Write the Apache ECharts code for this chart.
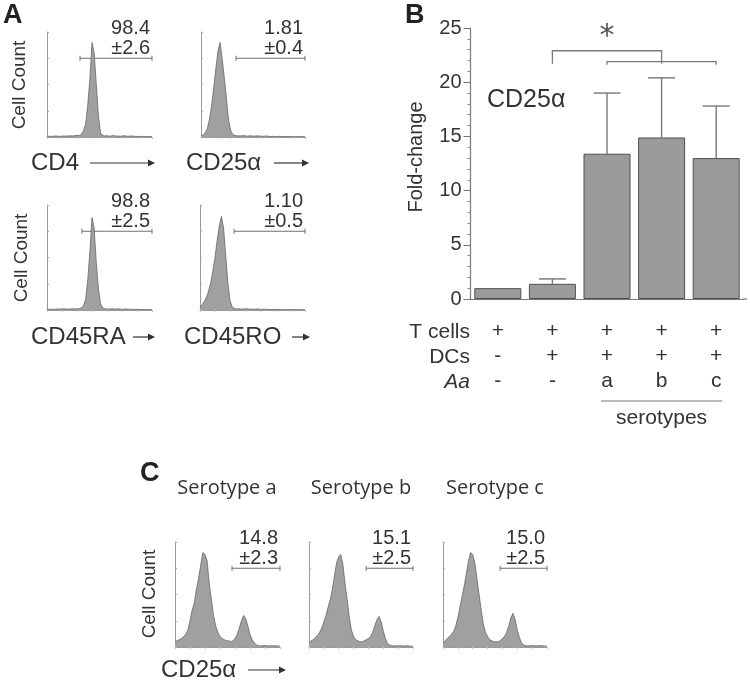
<!DOCTYPE html>
<html><head><meta charset="utf-8">
<script src="https://cdn.jsdelivr.net/npm/echarts/dist/echarts.min.js"></script>
<style>html,body{margin:0;padding:0;background:#fff}#c{width:750px;height:684px}</style>
</head><body><div id="c"></div>
<script>
// ---------- DATA ----------
// Panel A histograms (relative cell count per fluorescence bin, 50 bins)
const cd4Counts = [0.005,0.008,0.006,0.007,0.01,0.008,0.006,0.009,0.01,0.008,0.01,0.012,0.01,0.012,0.015,
  0.015,0.025,0.06,0.12,0.3,0.55,0.9,0.8,0.5,0.2,0.04,0.015,
  0.01,0.012,0.008,0.01,0.015,0.008,0.01,0.006,0.01,0.012,0.008,0.006,0.01,0.008,0.006,0.005,0.006,0.004,0.005,0.004,0.005,0.004,0.004];
const cd25Counts = [0.01,0.02,0.04,0.08,0.17,0.3,0.47,0.65,0.82,0.9,0.74,0.56,0.36,0.16,0.06,0.025,0.015,
  0.01,0.012,0.01,0.015,0.01,0.008,0.012,0.01,0.008,0.01,0.012,0.008,0.006,0.008,0.01,0.006,0.005,0.006,0.004,0.005,0.006,0.004,0.005,0.004,0.004,0.005,0.004,0.003,0.004,0.004,0.003,0.004,0.003];
const cd45raCounts = [0.005,0.006,0.008,0.006,0.008,0.01,0.008,0.01,0.012,0.01,0.008,0.01,0.012,0.01,0.012,0.012,
  0.02,0.04,0.1,0.28,0.55,0.88,0.78,0.45,0.2,0.06,0.02,
  0.012,0.01,0.008,0.012,0.01,0.008,0.012,0.01,0.006,0.008,0.01,0.006,0.008,0.006,0.005,0.006,0.004,0.005,0.004,0.005,0.004,0.004,0.003];
const cd45roCounts = [0.02,0.05,0.08,0.12,0.18,0.26,0.37,0.5,0.66,0.8,0.89,0.78,0.52,0.26,0.09,0.03,0.015,
  0.01,0.012,0.01,0.008,0.01,0.012,0.008,0.01,0.006,0.008,0.01,0.006,0.005,0.008,0.006,0.005,0.004,0.005,0.006,0.004,0.005,0.004,0.004,0.003,0.004,0.004,0.003,0.004,0.003,0.003,0.004,0.003,0.003];
// Panel C histograms (CD25α)
const serotypeACounts = [0.05,0.06,0.07,0.08,0.1,0.12,0.16,0.25,0.35,0.42,0.55,0.65,0.78,0.9,0.88,0.82,0.6,0.45,0.3,0.2,
  0.14,0.1,0.08,0.07,0.06,0.06,0.05,0.06,0.08,0.12,0.18,0.25,0.3,0.27,0.2,0.12,0.07,0.04,0.02,0.012,
  0.01,0.012,0.015,0.01,0.01,0.015,0.01,0.012,0.01,0.01];
const serotypeBCounts = [0.04,0.06,0.07,0.09,0.11,0.14,0.18,0.24,0.3,0.38,0.45,0.55,0.68,0.8,0.86,0.88,0.78,0.6,0.45,0.28,
  0.16,0.1,0.07,0.06,0.05,0.05,0.06,0.07,0.08,0.1,0.14,0.2,0.26,0.29,0.24,0.15,0.08,0.03,0.02,0.012,
  0.01,0.012,0.01,0.015,0.01,0.01,0.012,0.01,0.008,0.01];
const serotypeCCounts = [0.04,0.06,0.08,0.1,0.12,0.15,0.2,0.28,0.38,0.48,0.58,0.7,0.82,0.9,0.88,0.8,0.65,0.5,0.35,0.22,
  0.14,0.1,0.07,0.06,0.05,0.05,0.05,0.06,0.08,0.1,0.14,0.2,0.28,0.32,0.26,0.16,0.09,0.04,0.02,0.012,
  0.01,0.012,0.015,0.01,0.012,0.01,0.015,0.01,0.01,0.008];
const histMarkers = ['CD4','CD25α','CD45RA','CD45RO'];
const gatePct = ['98.4','1.81','98.8','1.10','14.8','15.1','15.0'];
const gateSd = ['±2.6','±0.4','±2.5','±0.5','±2.3','±2.5','±2.5'];
const gateStartBin = [15.4,16.5,16.3,15.9,26.6,26.9,26.9];
const gateLevel = 0.75;
const serotypeTitles = ['Serotype a','Serotype b','Serotype c'];
// Panel B
const barCats = ['1','2','3','4','5'];
const rowTCells = ['+','+','+','+','+'];
const rowDCs = ['-','+','+','+','+'];
const rowAa = ['-','-','a','b','c'];
const rowHeads = ['T cells','DCs','Aa'];
const foldChange = [1.0, 1.4, 13.4, 14.9, 13.0];
const foldErr = [0, 0.45, 5.6, 5.5, 4.8];

// ---------- LAYOUT ----------
const F = "'Liberation Sans', Arial, Helvetica, sans-serif";
const TXT = '#333';
const histGrids = [
  {left:47, top:32, width:105, height:105},
  {left:201, top:32, width:104, height:105},
  {left:47, top:205, width:105, height:105},
  {left:200, top:205, width:105, height:105},
  {left:175, top:542, width:105, height:105},
  {left:309, top:542, width:104, height:105},
  {left:443, top:542, width:104, height:105}
];
const histData = [cd4Counts, cd25Counts, cd45raCounts, cd45roCounts, serotypeACounts, serotypeBCounts, serotypeCCounts];
const barGrid = {left:470.5, top:28, width:273, height:271};

const grids = histGrids.concat([barGrid]);
const xAxes = [], yAxes = [], series = [];
histData.forEach((d, i) => {
  xAxes.push({gridIndex:i, type:'value', min:0, max:d.length-1, interval:7,
    axisLine:{lineStyle:{color:'#9a9a9a', width:1}},
    axisTick:{show:true, length:2, lineStyle:{color:'#c4c4c4'}},
    axisLabel:{show:false}, splitLine:{show:false}});
  yAxes.push({gridIndex:i, type:'value', min:0, max:1, interval:0.25,
    axisLine:{show:true, lineStyle:{color:'#9a9a9a', width:1}},
    axisTick:{show:true, inside:true, length:2, lineStyle:{color:'#aaa'}},
    axisLabel:{show:false}, splitLine:{show:false}});
  series.push({type:'line', xAxisIndex:i, yAxisIndex:i, symbol:'none', silent:true,
    data:d.map((v, k) => [k, v]),
    lineStyle:{color:'#666', width:0.8},
    areaStyle:{color:'#a0a0a0', opacity:1}});
});
const B = histData.length;
xAxes.push({gridIndex:B, type:'category', data:barCats,
  axisLine:{lineStyle:{color:'#777', width:1.2}},
  axisTick:{alignWithLabel:true, length:6, lineStyle:{color:'#777'}},
  axisLabel:{color:TXT, fontFamily:F, fontSize:21, lineHeight:25, margin:20,
    formatter:(v, i) => rowTCells[i] + '\n' + rowDCs[i] + '\n' + rowAa[i]}});
yAxes.push({gridIndex:B, type:'value', min:0, max:25, interval:5,
  axisLine:{show:true, lineStyle:{color:'#777', width:1.2}},
  axisTick:{show:true, length:7, lineStyle:{color:'#777'}},
  minorTick:{show:true, splitNumber:5, length:3, lineStyle:{color:'#888'}},
  axisLabel:{color:TXT, fontFamily:F, fontSize:20, margin:9},
  splitLine:{show:false}});
series.push({type:'bar', xAxisIndex:B, yAxisIndex:B, data:foldChange, barWidth:47,
  itemStyle:{color:'#9b9b9b', borderColor:'#4f4f4f', borderWidth:1}, silent:true});
series.push({type:'custom', xAxisIndex:B, yAxisIndex:B, silent:true, z:1,
  data:foldChange.map((v, i) => [i, v, foldErr[i]]),
  encode:{x:0, y:1},
  renderItem:(params, api) => {
    const e = api.value(2);
    if (!e) return null;
    const p0 = api.coord([api.value(0), api.value(1)]);
    const p1 = api.coord([api.value(0), api.value(1) + e]);
    const st = {stroke:'#777', lineWidth:1.4};
    return {type:'group', children:[
      {type:'line', shape:{x1:p0[0], y1:p0[1], x2:p1[0], y2:p1[1]}, style:st},
      {type:'line', shape:{x1:p1[0]-13.5, y1:p1[1], x2:p1[0]+13.5, y2:p1[1]}, style:st}
    ]};
  }});

const chart = echarts.init(document.getElementById('c'));
chart.setOption({animation:false, backgroundColor:'#fff', grid:grids, xAxis:xAxes, yAxis:yAxes, series:series});

// ---------- ANNOTATIONS ----------
const g = [];
function T(t, x, y, o) {
  g.push({type:'text', x:x, y:y, silent:true, rotation:(o && o.rot) || 0,
    style:Object.assign({text:t, fill:TXT, fontFamily:F, fontSize:20,
      align:'left', verticalAlign:'middle', textAlign:'left', textVerticalAlign:'middle'}, o || {})});
}
function L(x1, y1, x2, y2, c, w) {
  g.push({type:'line', silent:true, shape:{x1, y1, x2, y2}, style:{stroke:c || '#777', lineWidth:w || 1.2}});
}
function arrow(x1, x2, y) {
  L(x1, y, x2 - 5, y, '#333', 1.2);
  g.push({type:'polygon', silent:true, shape:{points:[[x2-7, y-3.5], [x2, y], [x2-7, y+3.5]]}, style:{fill:'#333'}});
}
function R(s, o) { return Object.assign({align:'right', textAlign:'right'}, o); }
function C(s, o) { return Object.assign({align:'center', textAlign:'center'}, o); }

// gates and percentages
histData.forEach((d, i) => {
  const a = chart.convertToPixel({gridIndex:i}, [gateStartBin[i], gateLevel]);
  const b = chart.convertToPixel({gridIndex:i}, [d.length - 1, gateLevel]);
  L(a[0], a[1], b[0], b[1], '#6f6f6f', 1.2);
  L(a[0], a[1]-2.5, a[0], a[1]+2.5, '#6f6f6f', 1);
  L(b[0], b[1]-2.5, b[0], b[1]+2.5, '#6f6f6f', 1);
  T(gatePct[i], b[0] - 2, a[1] - 30, R(0, {fontSize:20}));
  T(gateSd[i], b[0] - 2, a[1] - 10, R(0, {fontSize:20}));
});
// panel letters
T('A', 3, 16, {fontSize:27, fontWeight:'bold', fill:'#222'});
T('B', 405, 16, {fontSize:27, fontWeight:'bold', fill:'#222'});
T('C', 140, 474, {fontSize:27, fontWeight:'bold', fill:'#222'});
// Cell Count labels
[[20, 85], [22, 258], [150, 594]].forEach(p => T('Cell Count', p[0], p[1], C(0, {fontSize:19, rot:Math.PI/2})));
// marker labels with arrows
T(histMarkers[0], 31, 163, {fontSize:24}); arrow(90, 155, 163);
T(histMarkers[1], 186, 163, {fontSize:24}); arrow(274, 309, 163);
T(histMarkers[2], 31, 337, {fontSize:24}); arrow(133, 155, 337);
T(histMarkers[3], 184, 337, {fontSize:24}); arrow(292, 310, 337);
T('CD25α', 161, 670, {fontSize:24}); arrow(248, 286, 670);
// serotype titles
serotypeTitles.forEach((s, i) => {
  const gx = histGrids[4 + i];
  T(s, gx.left + 52, 488, C(0, {fontSize:20, fontFamily:"'Open Sans', 'Noto Sans', sans-serif"}));
});
// Panel B extras
T('Fold-change', 416, 157, C(0, {fontSize:20, rot:Math.PI/2}));
T('CD25α', 487, 100, {fontSize:25});
rowHeads.forEach((h, i) => T(h, 470, 332 + i * 25, R(0, {fontSize:21, fontStyle: h === 'Aa' ? 'italic' : 'normal'})));
const P = (c, v) => chart.convertToPixel({gridIndex:B}, [c, v]);
// significance brackets
const b1a = P(1, 22.9), b1b = P(3, 22.9), b1d = P(1, 21.7), b1e = P(3, 21.7);
g.push({type:'polyline', silent:true, shape:{points:[[b1d[0], b1d[1]], [b1a[0], b1a[1]], [b1b[0], b1b[1]], [b1e[0], b1e[1]]]}, style:{stroke:'#7a7a7a', lineWidth:1.3, fill:null}});
const b2a = P(2, 21.9), b2b = P(4, 21.9), b2d = P(2, 21.6), b2e = P(4, 21.6);
g.push({type:'polyline', silent:true, shape:{points:[[b2d[0], b2d[1]], [b2a[0], b2a[1]], [b2b[0], b2b[1]], [b2e[0], b2e[1]]]}, style:{stroke:'#7a7a7a', lineWidth:1.3, fill:null}});
const star = P(2, 24.5);
T('*', star[0], star[1] + 4, C(0, {fontSize:30, fill:'#555', fontFamily:"'DejaVu Sans', sans-serif"}));
// serotypes underline
const s1 = P(2, 0), s2 = P(4, 0), s3 = P(3, 0);
L(s1[0] - 6, 401, s2[0] + 6, 401, '#777', 1.2);
T('serotypes', s3[0], 418, C(0, {fontSize:21}));
// extend bar x-axis line as in the figure
const xe = P(4, 0);
L(xe[0] + 27, xe[1], xe[0] + 31, xe[1], '#777', 1.2);

chart.setOption({graphic:{elements:g}});
</script></body></html>
